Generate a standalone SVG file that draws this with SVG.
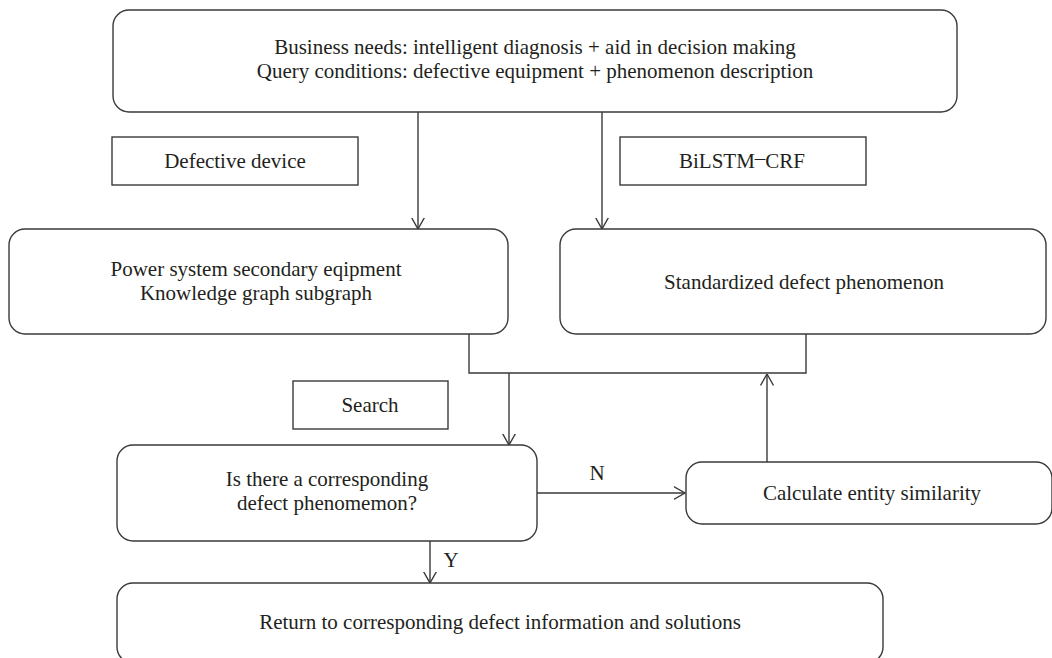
<svg xmlns="http://www.w3.org/2000/svg" width="1052" height="658" viewBox="0 0 1052 658">
  <style>
    .box { fill: #ffffff; stroke: #3a3a3a; stroke-width: 1.4; }
    .lbl { font-family: "Liberation Serif", "Times New Roman", serif; font-size: 21px; fill: #231f20; text-anchor: middle; }
    .edge { fill: none; stroke: #3a3a3a; stroke-width: 1.4; }
  </style>
  <defs>
    <marker id="arrow" markerUnits="userSpaceOnUse" viewBox="0 0 12 14" refX="11.5" refY="7" markerWidth="12" markerHeight="14" orient="auto">
      <path d="M0,0.5 L11.5,7 L0,13.5" fill="none" stroke="#3a3a3a" stroke-width="1.4"/>
    </marker>
  </defs>
  <rect width="1052" height="658" fill="#ffffff"/>

  <!-- connectors -->
  <g id="connectors">
    <line class="edge" x1="418" y1="112" x2="418" y2="229" marker-end="url(#arrow)"/>
    <line class="edge" x1="602" y1="112" x2="602" y2="229" marker-end="url(#arrow)"/>
    <polyline class="edge" points="469,334 469,373 806,373 806,334"/>
    <line class="edge" x1="509" y1="373" x2="509" y2="445" marker-end="url(#arrow)"/>
    <line class="edge" x1="537" y1="493" x2="685" y2="493" marker-end="url(#arrow)"/>
    <line class="edge" x1="767" y1="462" x2="767" y2="374" marker-end="url(#arrow)"/>
    <line class="edge" x1="430" y1="541" x2="430" y2="583" marker-end="url(#arrow)"/>
    <text class="lbl" x="597" y="480">N</text>
    <text class="lbl" x="451" y="567">Y</text>
  </g>

  <g id="query">
    <rect class="box" x="113" y="10" width="844" height="102" rx="16"/>
    <text class="lbl" x="535" y="54">Business needs: intelligent diagnosis + aid in decision making</text>
    <text class="lbl" x="535" y="78">Query conditions: defective equipment + phenomenon description</text>
  </g>

  <g id="defective-device">
    <rect class="box" x="112" y="137" width="246" height="48"/>
    <text class="lbl" x="235" y="168">Defective device</text>
  </g>

  <g id="bilstm-crf">
    <rect class="box" x="620" y="137" width="246" height="48"/>
    <text class="lbl" x="742" y="168">BiLSTM<tspan dy="-3">–</tspan><tspan dy="3">CRF</tspan></text>
  </g>

  <g id="knowledge-graph">
    <rect class="box" x="9" y="229" width="499" height="105" rx="16"/>
    <text class="lbl" x="256" y="276">Power system secondary eqipment</text>
    <text class="lbl" x="256" y="300">Knowledge graph subgraph</text>
  </g>

  <g id="standardized">
    <rect class="box" x="560" y="229" width="486" height="105" rx="16"/>
    <text class="lbl" x="804" y="289">Standardized defect phenomenon</text>
  </g>

  <g id="search">
    <rect class="box" x="293" y="381" width="155" height="48"/>
    <text class="lbl" x="370" y="412">Search</text>
  </g>

  <g id="decision">
    <rect class="box" x="117" y="445" width="420" height="96" rx="16"/>
    <text class="lbl" x="327" y="486">Is there a corresponding</text>
    <text class="lbl" x="327" y="510">defect phenomemon?</text>
  </g>

  <g id="similarity">
    <rect class="box" x="686" y="462" width="366" height="62" rx="16"/>
    <text class="lbl" x="872" y="500">Calculate entity similarity</text>
  </g>

  <g id="result">
    <rect class="box" x="117" y="583" width="766" height="80" rx="16"/>
    <text class="lbl" x="500" y="629">Return to corresponding defect information and solutions</text>
  </g>
</svg>
